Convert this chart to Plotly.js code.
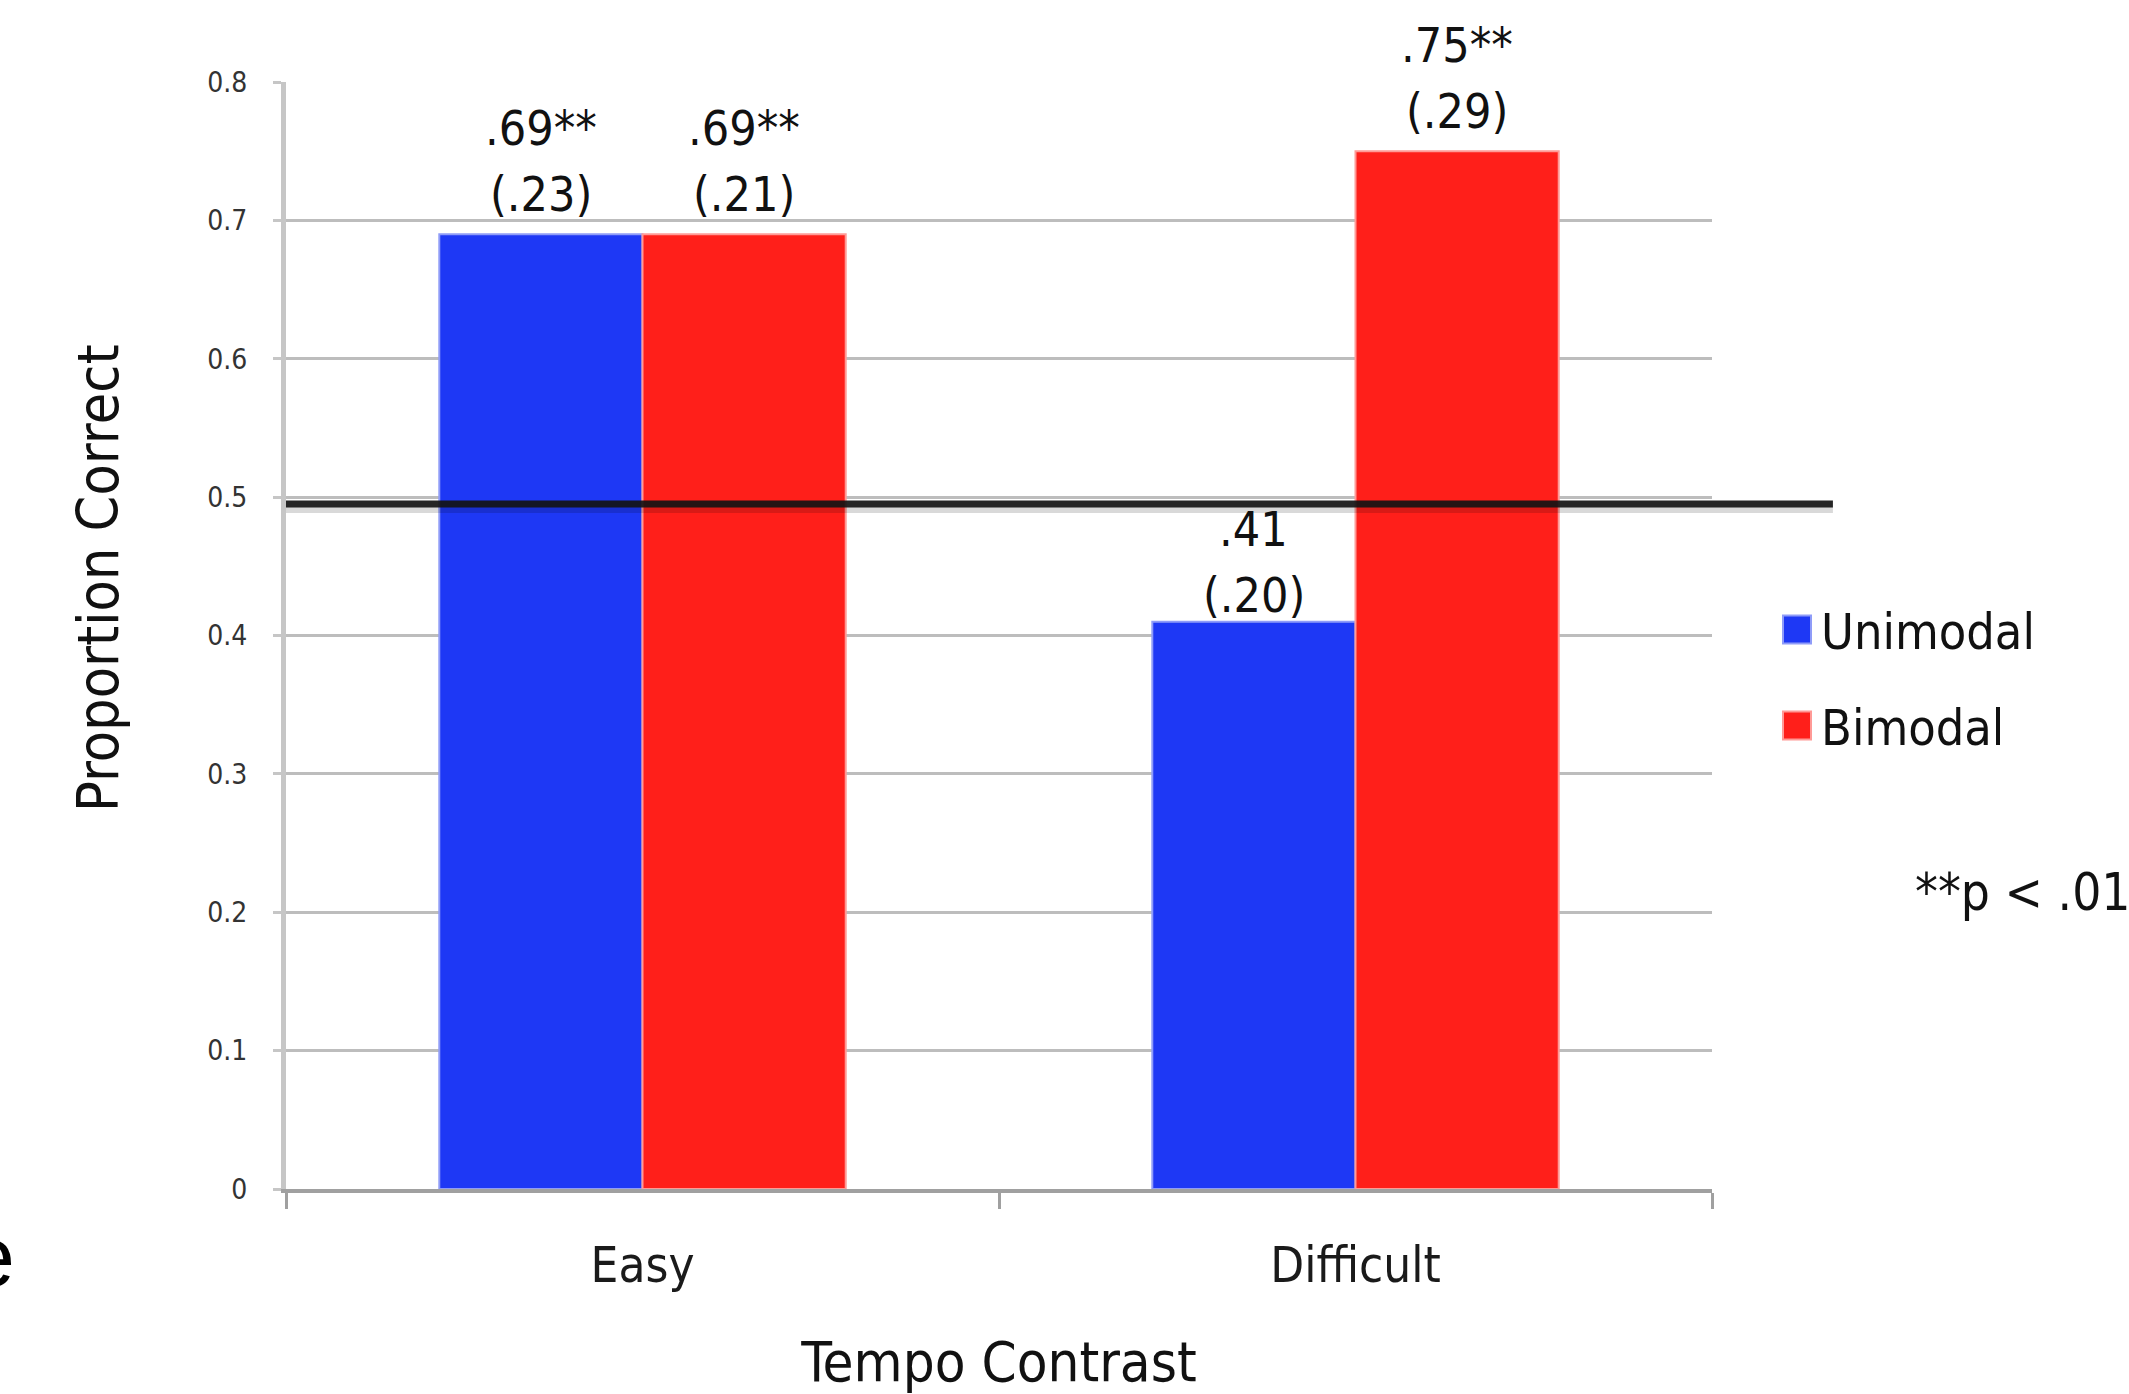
<!DOCTYPE html>
<html>
<head>
<meta charset="utf-8">
<script src="https://cdn.plot.ly/plotly-3.0.1.min.js"></script>
<style>html,body{margin:0;padding:0;background:#fff;}#chart{width:2129px;height:1394px;}</style>
</head>
<body>
<div id="chart"></div>
<script>
// ---- data ----
const categories = ['Easy', 'Difficult'];
const seriesNames = ['Unimodal', 'Bimodal'];
const unimodal = [0.69, 0.41];
const bimodal = [0.69, 0.75];
const unimodalMeanLabels = ['.69**', '.41'];
const unimodalSdLabels = ['(.23)', '(.20)'];
const bimodalMeanLabels = ['.69**', '.75**'];
const bimodalSdLabels = ['(.21)', '(.29)'];
const chanceLine = [0.495];
const yTickVals = [0, 0.1, 0.2, 0.3, 0.4, 0.5, 0.6, 0.7, 0.8];
const yTickText = ['0', '0.1', '0.2', '0.3', '0.4', '0.5', '0.6', '0.7', '0.8'];
const xTitle = 'Tempo Contrast';
const yTitle = 'Proportion Correct';
const noteText = '**p < .01';
const sideText = 'e';

// ---- styling ----
const FONT = '"DejaVu Sans Condensed", "Liberation Sans Narrow", "DejaVu Sans", sans-serif';
const BLUE = '#1e38f5';
const RED = '#ff1f1a';
const BARGAP = 0.43;
const half = (1 - BARGAP) / 4;

const traces = [
  {type: 'bar', name: seriesNames[0], x: categories, y: unimodal, legendgroup: 'u',
   marker: {color: BLUE, line: {color: '#8f9cf8', width: 2}}, hoverinfo: 'skip'},
  {type: 'bar', name: seriesNames[1], x: categories, y: bimodal, legendgroup: 'b',
   marker: {color: RED, line: {color: '#ff9a96', width: 2}}, hoverinfo: 'skip'}
];

const annFont = {family: FONT, size: 48, color: '#111'};
const annotations = [];
function addLabels(vals, means, sds, off) {
  vals.forEach((v, i) => {
    // labels under the chance line sit a little closer to their bar
    const low = v < chanceLine[0];
    annotations.push({x: i + off, y: v, xref: 'x', yref: 'y', text: sds[i], showarrow: false,
      yanchor: 'middle', xanchor: 'center', yshift: low ? 27 : 40, font: annFont});
    annotations.push({x: i + off, y: v, xref: 'x', yref: 'y', text: means[i], showarrow: false,
      yanchor: 'middle', xanchor: 'center', yshift: low ? 93 : 106, font: annFont});
  });
}
addLabels(unimodal, unimodalMeanLabels, unimodalSdLabels, -half);
addLabels(bimodal, bimodalMeanLabels, bimodalSdLabels, half);

annotations.push({xref: 'paper', yref: 'paper', x: -0.1318, y: 0.552, xanchor: 'center', yanchor: 'middle',
  textangle: -90, text: yTitle, showarrow: false, font: {family: FONT, size: 57, color: '#111'}});
annotations.push({xref: 'paper', yref: 'paper', x: 1.1410, y: 0.2674, xanchor: 'left', yanchor: 'middle',
  text: noteText, showarrow: false, font: {family: FONT, size: 51, color: '#111'}});
annotations.push({xref: 'paper', yref: 'paper', x: -0.1886, y: -0.0605, xanchor: 'right', yanchor: 'middle',
  text: sideText, showarrow: false, font: {family: '"Liberation Sans", Arial, sans-serif', size: 86, color: '#000'}});

const layout = {
  width: 2129, height: 1394,
  margin: {l: 286, r: 417, t: 82, b: 205, autoexpand: false},
  paper_bgcolor: '#fff', plot_bgcolor: '#fff',
  barmode: 'group', bargap: BARGAP, bargroupgap: 0,
  showlegend: true,
  legend: {x: 1.0484, y: 0.462, xanchor: 'left', yanchor: 'middle', font: {family: FONT, size: 50, color: '#111'},
    tracegroupgap: 28, bgcolor: 'rgba(0,0,0,0)'},
  xaxis: {
    type: 'category', showline: true, linecolor: '#a0a0a0', linewidth: 4,
    ticks: 'outside', tickson: 'boundaries', ticklen: 16, tickwidth: 3, tickcolor: '#a0a0a0',
    tickfont: {family: FONT, size: 49, color: '#1a1a1a'}, ticklabelstandoff: 30,
    showgrid: false, zeroline: false,
    title: {text: xTitle, font: {family: FONT, size: 56, color: '#111'}, standoff: 63}
  },
  yaxis: {
    range: [0, 0.8], tickvals: yTickVals, ticktext: yTickText,
    showline: true, linecolor: '#c6c6c6', linewidth: 5,
    ticks: 'outside', ticklen: 8, tickwidth: 3, tickcolor: '#c6c6c6',
    tickfont: {family: FONT, size: 28, color: '#333'}, ticklabelstandoff: 20,
    showgrid: true, gridcolor: '#bdbdbd', gridwidth: 3, zeroline: false
  },
  shapes: [
    {type: 'line', xref: 'paper', yref: 'y', x0: 0, x1: 1.0848, ysizemode: 'pixel', yanchor: chanceLine[0],
     y0: -6, y1: -6, line: {color: 'rgba(0,0,0,0.15)', width: 6}, layer: 'above'},
    {type: 'line', xref: 'paper', yref: 'y', x0: 0, x1: 1.0848, y0: chanceLine[0], y1: chanceLine[0],
     line: {color: 'rgba(20,20,20,0.92)', width: 7}, layer: 'above'}
  ],
  annotations: annotations
};

Plotly.newPlot('chart', traces, layout, {displayModeBar: false, staticPlot: true}).then(function (gd) {
  // enlarge the legend swatches (keeping Plotly's own centring transform)
  gd.querySelectorAll('.legend .legendpoints path').forEach(function (p) {
    p.setAttribute('d', 'M10,14H-18V-14H10Z');
  });
});
</script>
</body>
</html>
